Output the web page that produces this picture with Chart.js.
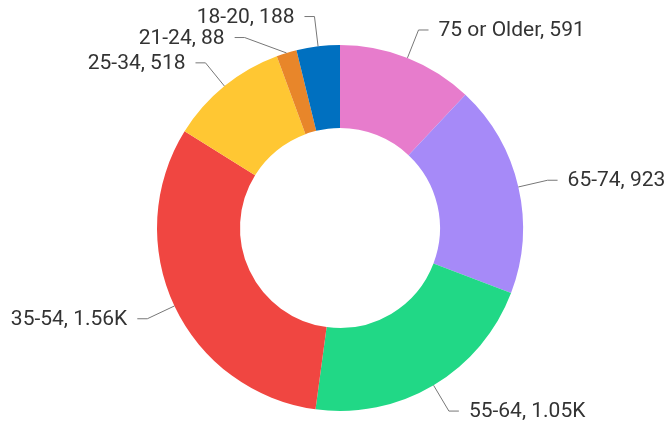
<!DOCTYPE html>
<html>
<head>
<meta charset="utf-8">
<script src="https://cdn.jsdelivr.net/npm/chart.js@4.4.1/dist/chart.umd.min.js"></script>
<style>
  html, body { margin: 0; padding: 0; background: #fff; }
  #wrap { width: 665px; height: 423px; position: relative; }
</style>
</head>
<body>
<div id="wrap"><canvas id="myChart"></canvas></div>
<script>
// age groups, clockwise from 12 o'clock
const ageGroups = ['75 or Older', '65-74', '55-64', '35-54', '25-34', '21-24', '18-20'];
const counts = [591, 923, 1050, 1560, 518, 88, 188];
const sliceColors = ['#e77ccc', '#a68af8', '#21d886', '#f04641', '#ffc733', '#e8862a', '#0070c0'];

function fmt(v) {
  if (v >= 1000) return parseFloat((v / 1000).toFixed(2)) + 'K';
  return String(v);
}

// draws the "label, value" text with a little elbow line to each slice
const leaderLabels = {
  id: 'leaderLabels',
  afterDatasetsDraw(chart) {
    const ctx = chart.ctx;
    const arcs = chart.getDatasetMeta(0).data;
    const items = [];
    arcs.forEach((arc, i) => {
      const p = arc.getProps(['x', 'y', 'startAngle', 'endAngle', 'outerRadius'], true);
      const mid = (p.startAngle + p.endAngle) / 2;
      const R = p.outerRadius + 30;
      items.push({
        i: i,
        cx: p.x, cy: p.y, R: R,
        sx: p.x + Math.cos(mid) * p.outerRadius,
        sy: p.y + Math.sin(mid) * p.outerRadius,
        ex: p.x + Math.cos(mid) * R,
        ey: p.y + Math.sin(mid) * R,
        right: Math.cos(mid) >= 0
      });
    });

    // push labels apart on each side
    [true, false].forEach(side => {
      const list = items.filter(it => it.right === side).sort((a, b) => a.ey - b.ey);
      for (let k = 1; k < list.length; k++) {
        if (list[k].ey < list[k - 1].ey + 21) {
          const it = list[k];
          it.ey = list[k - 1].ey + 21;
          const dy = it.ey - it.cy;
          if (Math.abs(dy) < it.R) {
            const dx = Math.sqrt(it.R * it.R - dy * dy);
            it.ex = it.cx + (side ? dx : -dx);
          }
        }
      }
    });

    ctx.save();
    ctx.font = '21px Roboto';
    ctx.textBaseline = 'middle';
    items.forEach(it => {
      const dir = it.right ? 1 : -1;
      const hx = it.ex + dir * 10;
      ctx.strokeStyle = '#777';
      ctx.lineWidth = 1;
      ctx.beginPath();
      ctx.moveTo(it.sx, it.sy);
      ctx.lineTo(it.ex, it.ey);
      ctx.lineTo(hx, it.ey);
      ctx.stroke();
      ctx.fillStyle = '#333';
      ctx.textAlign = it.right ? 'left' : 'right';
      ctx.fillText(ageGroups[it.i] + ', ' + fmt(counts[it.i]), hx + dir * 10, it.ey + 1);
    });
    ctx.restore();
  }
};

const ctx = document.getElementById('myChart');
new Chart(ctx, {
  type: 'doughnut',
  data: {
    labels: ageGroups,
    datasets: [{
      data: counts,
      backgroundColor: sliceColors,
      borderWidth: 0,
      hoverOffset: 0
    }]
  },
  options: {
    responsive: true,
    maintainAspectRatio: false,
    animation: false,
    events: [],
    radius: 183,
    cutout: 100,
    layout: { padding: { left: 157, right: 142, top: 45, bottom: 12 } },
    plugins: {
      legend: { display: false },
      tooltip: { enabled: false }
    }
  },
  plugins: [leaderLabels]
});
</script>
</body>
</html>
